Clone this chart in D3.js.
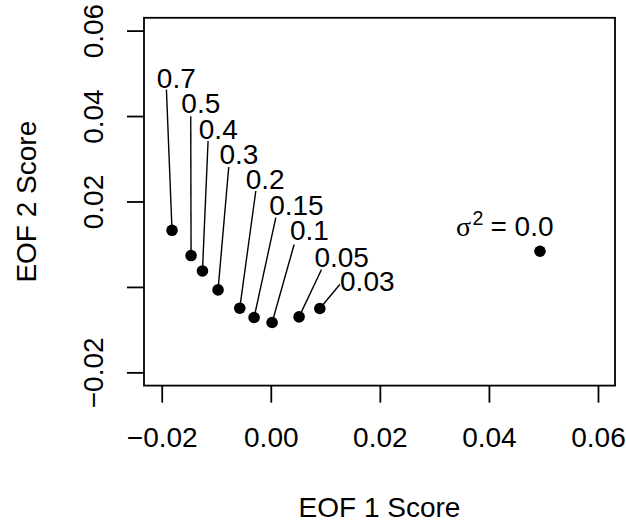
<!DOCTYPE html>
<html>
<head>
<meta charset="utf-8">
<script src="https://cdn.jsdelivr.net/npm/d3@7"></script>
<style>
  html, body { margin: 0; padding: 0; background: #fff; }
  svg { display: block; }
  text { font-family: "Liberation Sans", Arial, Helvetica, sans-serif; fill: #000; }
</style>
</head>
<body>
<svg id="chart" width="626" height="525"></svg>
<script>
// Noise variance levels and their scores on the first two EOFs
const sigma2 = ["0.7", "0.5", "0.4", "0.3", "0.2", "0.15", "0.1", "0.05", "0.03"];
const eof1 = [-0.01811, -0.01462, -0.01253, -0.00967, -0.00569, -0.00306, 0.00024, 0.00519, 0.00899];
const eof2 = [0.01326, 0.00734, 0.00374, -0.0007, -0.00498, -0.00716, -0.00833, -0.00702, -0.00505];

// Label placement (data units): text start/baseline and leader-line end
const labelX = [-0.0209, -0.0164, -0.0132, -0.0094, -0.0046, -0.0003, 0.0035, 0.0080, 0.0127];
const labelY = [0.04664, 0.04080, 0.03471, 0.02887, 0.02302, 0.01694, 0.01092, 0.00468, -0.00101];
const leaderX = [-0.01914, -0.01468, -0.01150, -0.00771, -0.00275, 0.00092, 0.00428, 0.00930, 0.01266];
const leaderY = [0.04618, 0.03993, 0.03415, 0.02807, 0.02246, 0.01623, 0.00992, 0.00407, 0.00056];

// Noise-free case
const zeroLabel = "0.0";
const zeroEof1 = 0.04936;
const zeroEof2 = 0.00835;

// Axes
const xLimits = [-0.02325, 0.06312];
const yLimits = [-0.0231, 0.0630];
const xTicks = [-0.02, 0.00, 0.02, 0.04, 0.06];
const xTickLabels = ["\u22120.02", "0.00", "0.02", "0.04", "0.06"];
const yTicks = [-0.02, 0.00, 0.02, 0.04, 0.06];
const yTickLabels = ["\u22120.02", "", "0.02", "0.04", "0.06"];
const xTitle = "EOF 1 Score";
const yTitle = "EOF 2 Score";

const svg = d3.select("#chart");
const fs = 28;
const plot = { left: 144, right: 615, top: 17.8, bottom: 385.6 };

const x = d3.scaleLinear().domain(xLimits).range([plot.left, plot.right]);
const y = d3.scaleLinear().domain(yLimits).range([plot.bottom, plot.top]);

svg.append("rect").attr("width", 626).attr("height", 525).attr("fill", "#fff");

// bottom axis
const xAxis = d3.axisBottom(x)
  .tickValues(xTicks)
  .tickFormat((d, i) => xTickLabels[i])
  .tickSize(17)
  .tickSizeOuter(0);
const gx = svg.append("g").attr("transform", `translate(0,${plot.bottom})`).call(xAxis);
gx.select(".domain").remove();
gx.selectAll(".tick line").attr("stroke", "#000").attr("stroke-width", 1.8);
gx.selectAll(".tick text")
  .attr("y", 61.7).attr("dy", null)
  .attr("font-size", fs)
  .attr("font-family", "Liberation Sans, Arial, sans-serif")
  .attr("fill", "#000");

// left axis with rotated labels
const yAxis = d3.axisLeft(y)
  .tickValues(yTicks)
  .tickFormat((d, i) => yTickLabels[i])
  .tickSize(17)
  .tickSizeOuter(0);
const gy = svg.append("g").attr("transform", `translate(${plot.left},0)`).call(yAxis);
gy.select(".domain").remove();
gy.selectAll(".tick line").attr("stroke", "#000").attr("stroke-width", 1.8);
gy.selectAll(".tick text")
  .attr("x", null).attr("dy", null)
  .attr("transform", "translate(-41,0) rotate(-90)")
  .attr("text-anchor", "middle")
  .attr("font-size", fs)
  .attr("font-family", "Liberation Sans, Arial, sans-serif")
  .attr("fill", "#000");

// plot frame
svg.append("rect")
  .attr("x", plot.left).attr("y", plot.top)
  .attr("width", plot.right - plot.left).attr("height", plot.bottom - plot.top)
  .attr("fill", "none").attr("stroke", "#000").attr("stroke-width", 1.8);

// axis titles
svg.append("text")
  .attr("x", (plot.left + plot.right) / 2).attr("y", 516.7)
  .attr("text-anchor", "middle").attr("font-size", fs)
  .text(xTitle);
svg.append("text")
  .attr("transform", `translate(35.7,${(plot.top + plot.bottom) / 2}) rotate(-90)`)
  .attr("text-anchor", "middle").attr("font-size", fs)
  .text(yTitle);

// leader lines
const pts = sigma2.map((s, i) => ({
  label: s, x: eof1[i], y: eof2[i],
  lx: labelX[i], ly: labelY[i], ex: leaderX[i], ey: leaderY[i]
}));

svg.append("g").selectAll("line").data(pts).join("line")
  .attr("x1", d => x(d.x)).attr("y1", d => y(d.y))
  .attr("x2", d => x(d.ex)).attr("y2", d => y(d.ey))
  .attr("stroke", "#000").attr("stroke-width", 1.4);

svg.append("g").selectAll("text").data(pts).join("text")
  .attr("x", d => x(d.lx)).attr("y", d => y(d.ly))
  .attr("font-size", fs)
  .text(d => d.label);

// points
svg.append("g").selectAll("circle").data(pts).join("circle")
  .attr("cx", d => x(d.x)).attr("cy", d => y(d.y))
  .attr("r", 5.8).attr("fill", "#000");

svg.append("circle")
  .attr("cx", x(zeroEof1)).attr("cy", y(zeroEof2))
  .attr("r", 5.8).attr("fill", "#000");

// sigma^2 = 0.0 label
const zx = x(zeroEof1) - 84, zy = y(zeroEof2) - 15.5;
const zt = svg.append("text").attr("x", zx).attr("y", zy).attr("font-size", fs);
zt.append("tspan")
  .attr("font-family", "Liberation Serif, Times New Roman, serif")
  .text("\u03c3");
zt.append("tspan")
  .attr("font-size", fs * 0.7).attr("dx", 1.5).attr("dy", -11)
  .text("2");
zt.append("tspan")
  .attr("dx", 7).attr("dy", 11)
  .text("= ");
zt.append("tspan")
  .attr("dx", 0)
  .text(zeroLabel);
</script>
</body>
</html>
